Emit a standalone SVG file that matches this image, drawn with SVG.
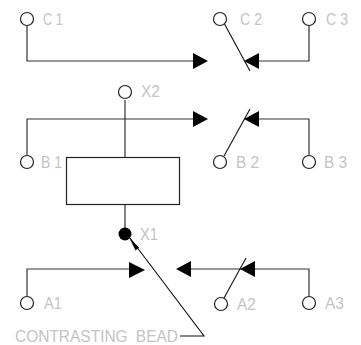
<svg xmlns="http://www.w3.org/2000/svg" width="361" height="345" viewBox="0 0 361 345">
<style>
.w{fill:none;stroke:#333;stroke-width:1.2}
.k{fill:none;stroke:#111;stroke-width:1.1}
.o{fill:#fff;stroke:#222;stroke-width:1.2}
.a{fill:#000;stroke:none}
text{font-family:"Liberation Sans",Arial,sans-serif;font-size:16px;fill:#c4c4c4}
</style>
<rect width="361" height="345" fill="#fff"/>
<g id="connectors">
<path class="w" d="M27 26V61H195"/>
<path class="w" d="M309 25V61H258"/>
<path class="k" d="M224 23L250 71"/>
<path class="w" d="M125 100V158"/>
<path class="w" d="M27 155V119H195"/>
<path class="w" d="M309 155V119H258"/>
<path class="k" d="M224 156L250 109"/>
<path class="w" d="M125 205V232"/>
<path class="w" d="M27 296V269H132"/>
<path class="w" d="M309 296V269H190"/>
<path class="k" d="M224 298L246 258"/>
<path class="k" d="M130 238L204 336H180"/>
<path class="a" d="M193 53L208 61L193 69Z"/>
<path class="a" d="M259 53L244 61L259 69Z"/>
<path class="a" d="M193 111L208 119L193 127Z"/>
<path class="a" d="M259 111L244 119L259 127Z"/>
<path class="a" d="M129 262L145 270L129 278Z"/>
<path class="a" d="M191 261L176 269L191 277Z"/>
<path class="a" d="M255 261L240 269L255 277Z"/>
<path class="a" d="M129.500 238L139 247.500L135.500 250.500Z"/>
</g>
<g id="C1"><circle class="o" cx="27" cy="19" r="6.500"/><text x="43" y="25" textLength="20" lengthAdjust="spacingAndGlyphs">C 1</text></g>
<g id="C2"><circle class="o" cx="220" cy="19" r="6.500"/><text x="240" y="25" textLength="22" lengthAdjust="spacingAndGlyphs">C 2</text></g>
<g id="C3"><circle class="o" cx="309" cy="19" r="6.500"/><text x="326" y="25" textLength="22" lengthAdjust="spacingAndGlyphs">C 3</text></g>
<g id="X2"><circle class="o" cx="125" cy="92" r="6.500"/><text x="141" y="97" textLength="19" lengthAdjust="spacingAndGlyphs">X2</text></g>
<g id="B1"><circle class="o" cx="27" cy="162" r="6.500"/><text x="41" y="168" textLength="21" lengthAdjust="spacingAndGlyphs">B 1</text></g>
<g id="B2"><circle class="o" cx="220" cy="162" r="6.500"/><text x="236" y="168" textLength="23" lengthAdjust="spacingAndGlyphs">B 2</text></g>
<g id="B3"><circle class="o" cx="309" cy="162" r="6.500"/><text x="324" y="168" textLength="23" lengthAdjust="spacingAndGlyphs">B 3</text></g>
<g id="coil"><rect x="66.500" y="157.500" width="113" height="47" fill="#fff" stroke="#222" stroke-width="1.2"/></g>
<g id="X1"><circle cx="125" cy="234" r="6.500" fill="#000"/><text x="140" y="240" textLength="18" lengthAdjust="spacingAndGlyphs">X1</text></g>
<g id="A1"><circle class="o" cx="27" cy="303" r="6.500"/><text x="44" y="309" textLength="18" lengthAdjust="spacingAndGlyphs">A1</text></g>
<g id="A2"><circle class="o" cx="221" cy="304" r="6.500"/><text x="237" y="310" textLength="19" lengthAdjust="spacingAndGlyphs">A2</text></g>
<g id="A3"><circle class="o" cx="309" cy="303" r="6.500"/><text x="325" y="309" textLength="19" lengthAdjust="spacingAndGlyphs">A3</text></g>
<g id="label"><text x="15" y="342" textLength="163" lengthAdjust="spacingAndGlyphs" word-spacing="4">CONTRASTING BEAD</text></g>
</svg>
